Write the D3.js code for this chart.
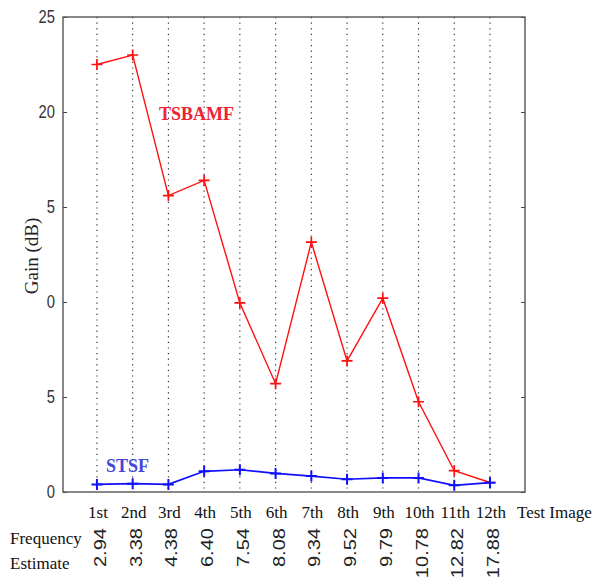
<!DOCTYPE html>
<html>
<head>
<meta charset="utf-8">
<script src="https://cdn.jsdelivr.net/npm/d3@7"></script>
<style>
  html, body { margin: 0; padding: 0; background: #fff; }
  svg { display: block; }
</style>
</head>
<body>
<svg id="chart" width="595" height="577"></svg>
<script>
// Test images and their estimated frequencies
const categories = ["1st", "2nd", "3rd", "4th", "5th", "6th", "7th", "8th", "9th", "10th", "11th", "12th"];
const freqEstimates = ["2.94", "3.38", "4.38", "6.40", "7.54", "8.08", "9.34", "9.52", "9.79", "10.78", "12.82", "17.88"];

// Gain (dB) for each method
const tsbamf = [22.5, 23.0, 15.6, 16.4, 9.95, 5.7, 13.15, 6.9, 10.2, 4.75, 1.12, 0.5];
const stsf   = [0.4, 0.44, 0.4, 1.09, 1.17, 0.98, 0.84, 0.67, 0.74, 0.74, 0.35, 0.49];

// Y axis ticks and the labels printed beside them
const yTicks = [0, 5, 10, 15, 20, 25];
const yTickLabels = ["0", "5", "0", "5", "20", "25"];

const svg = d3.select("#chart");
const plotL = 63, plotR = 525, plotT = 17, plotB = 492;

const x = d3.scaleLinear().domain([0.05, 12.98]).range([plotL, plotR]);
const y = d3.scaleLinear().domain([0, 25]).range([plotB, plotT]);
const idx = d3.range(categories.length);
const serif = "'Liberation Serif', 'Times New Roman', serif";
const sans = "'Liberation Sans', Arial, sans-serif";

// Dotted vertical grid at each test image
svg.append("g").selectAll("line").data(idx).join("line")
  .attr("x1", i => x(i + 1)).attr("x2", i => x(i + 1))
  .attr("y1", plotT).attr("y2", plotB)
  .attr("stroke", "#222").attr("stroke-width", 1.1)
  .attr("stroke-dasharray", "1.2,4.4");

// Left axis (ticks pointing inward) and mirrored right-side ticks
const yAxis = d3.axisLeft(y).tickValues(yTicks).tickSize(-4).tickPadding(10)
  .tickFormat((d, i) => yTickLabels[i]);
const gy = svg.append("g").attr("transform", `translate(${plotL},0)`).call(yAxis);
gy.select(".domain").remove();
gy.selectAll(".tick line").attr("stroke", "#444");
gy.selectAll(".tick text")
  .attr("font-family", sans).attr("font-size", 18).attr("fill", "#333")
  .attr("transform", "scale(0.82,1)")
  .attr("x", -8 / 0.82);

const gyr = svg.append("g").attr("transform", `translate(${plotR},0)`)
  .call(d3.axisRight(y).tickValues(yTicks).tickSize(-4).tickFormat(""));
gyr.select(".domain").remove();
gyr.selectAll(".tick line").attr("stroke", "#444");

// Frame
svg.append("rect")
  .attr("x", plotL).attr("y", plotT)
  .attr("width", plotR - plotL).attr("height", plotB - plotT)
  .attr("fill", "none").attr("stroke", "#555").attr("stroke-width", 1.4);

// Series lines with '+' markers
function drawSeries(values, color, width) {
  const line = d3.line().x((d, i) => x(i + 1)).y(d => y(d));
  svg.append("path").datum(values)
    .attr("d", line).attr("fill", "none")
    .attr("stroke", color).attr("stroke-width", width);
  const s = 5.5;
  const g = svg.append("g");
  values.forEach((v, i) => {
    const cx = x(i + 1), cy = y(v);
    g.append("path")
      .attr("d", `M${cx - s},${cy}H${cx + s}M${cx},${cy - s}V${cy + s}`)
      .attr("stroke", color).attr("stroke-width", width + 0.3);
  });
}
drawSeries(tsbamf, "#ff1010", 1.4);
drawSeries(stsf, "#1010ff", 1.7);

// Series labels
svg.append("text").attr("x", 159).attr("y", 120)
  .attr("font-family", serif).attr("font-weight", "bold").attr("font-size", 18)
  .attr("fill", "#ee2233").text("TSBAMF");
svg.append("text").attr("x", 106).attr("y", 472)
  .attr("font-family", serif).attr("font-weight", "bold").attr("font-size", 18)
  .attr("fill", "#4646d8").text("STSF");

// Y axis title
svg.append("text")
  .attr("transform", "translate(38,256) rotate(-90)")
  .attr("text-anchor", "middle")
  .attr("font-family", serif).attr("font-size", 19).attr("fill", "#222")
  .text("Gain (dB)");

// Category labels under the axis
svg.append("g").selectAll("text").data(idx).join("text")
  .attr("x", i => x(i + 1) + 1).attr("y", 518)
  .attr("text-anchor", "middle")
  .attr("font-family", serif).attr("font-size", 17).attr("fill", "#111")
  .text(i => categories[i]);
svg.append("text").attr("x", 517).attr("y", 518)
  .attr("font-family", serif).attr("font-size", 17).attr("fill", "#111")
  .text("Test Image");

// Frequency estimate row
svg.append("text").attr("x", 10).attr("y", 544)
  .attr("font-family", serif).attr("font-size", 17).attr("fill", "#111")
  .text("Frequency");
svg.append("text").attr("x", 10).attr("y", 569)
  .attr("font-family", serif).attr("font-size", 17).attr("fill", "#111")
  .text("Estimate");
svg.append("g").selectAll("text").data(idx).join("text")
  .attr("transform", i => `translate(${x(i + 1) + 9},528) rotate(-90) scale(1.18,1)`)
  .attr("text-anchor", "end")
  .attr("font-family", sans).attr("font-size", 17).attr("fill", "#222")
  .text(i => freqEstimates[i]);
</script>
</body>
</html>
